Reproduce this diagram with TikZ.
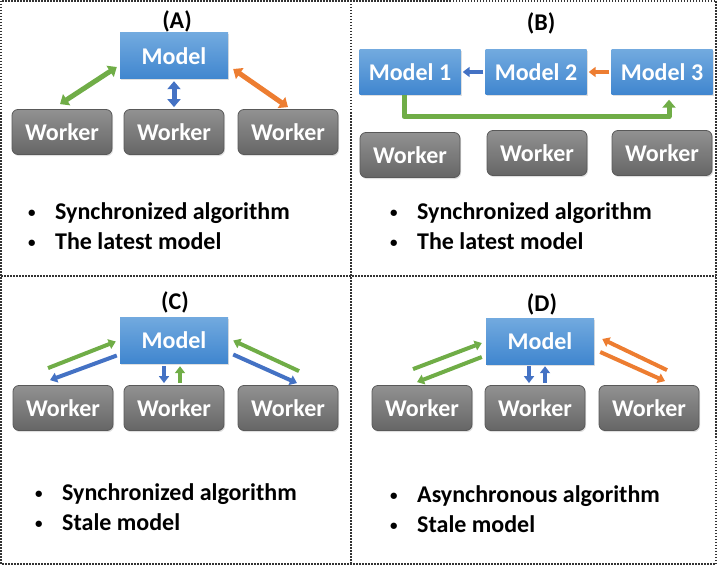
\documentclass[tikz,border=0pt]{standalone}
\usepackage{fontspec}
\setmainfont{Carlito}
\usetikzlibrary{arrows.meta,shadows}
\definecolor{arrgreen}{RGB}{112,173,71}
\definecolor{arrblue}{RGB}{68,114,196}
\definecolor{arrorange}{RGB}{237,125,49}
\definecolor{modeltop}{RGB}{114,170,223}
\definecolor{modelbot}{RGB}{64,134,207}
\definecolor{workertop}{RGB}{145,145,145}
\definecolor{workerbot}{RGB}{102,102,102}
\newcommand{\itm}{\makebox[29pt][l]{\hspace{2pt}\raisebox{1.5pt}{\fontsize{15}{15}\selectfont\textbullet}}}
\begin{document}
\begin{tikzpicture}[x=1pt,y=-1pt, font=\fontsize{24}{30}\selectfont\bfseries, line join=round,
	>={Triangle[length=8pt,width=13pt]},
	model/.style={top color=modeltop,bottom color=modelbot,text=white,inner sep=0pt,
		minimum width=108pt,minimum height=46pt,
		drop shadow={opacity=.25,shadow xshift=1pt,shadow yshift=-1.5pt}},
	modelsmall/.style={model,minimum width=101pt,minimum height=45pt},
	worker/.style={top color=workertop,bottom color=workerbot,draw=gray!70!black,line width=.8pt,
		rounded corners=6pt,text=white,inner sep=0pt,minimum width=100pt,minimum height=45pt,
		drop shadow={opacity=.25,shadow xshift=1pt,shadow yshift=-1.5pt}},
	bigarrow/.style={line width=5pt},
	pairarrow/.style={line width=4pt,-{Triangle[length=7pt,width=10pt]}},
	bullets/.style={anchor=west,align=left,inner sep=0pt},
	frame/.style={gray!40!black,line width=1.3pt,dash pattern=on 1.5pt off 1.5pt}]
	\useasboundingbox (0,0) rectangle (717,567);
	% frame
	\draw[frame] (1,1) rectangle (716,564);
	\draw[frame] (351,1)--(351,564);
	\draw[frame] (1,276)--(716,276);
	% (A)
	\node (tA) at (177,21) {(A)};
	\node[model] (ma) at (174,56) {Model};
	\node[worker] (wa1) at (62,132) {Worker};
	\node[worker] (wa2) at (174,132) {Worker};
	\node[worker] (wa3) at (288,132) {Worker};
	\draw[bigarrow,arrgreen,<->] ([shift={(-2,-5)}]wa1.north) -- ([shift={(-3,11)}]ma.west);
	\draw[bigarrow,arrblue,<->] ([yshift=-2pt]ma.south) -- ([yshift=2pt]wa2.north);
	\draw[bigarrow,arrorange,<->] ([shift={(5,13)}]ma.east) -- ([shift={(0,-2)}]wa3.north);
	\node[bullets] (la) at (26,226) {\itm Synchronized algorithm\\ \itm The latest model};
	% (B)
	\node (tB) at (541,23) {(B)};
	\node[modelsmall] (mb1) at (410,72) {Model 1};
	\node[modelsmall] (mb2) at (536,72) {Model 2};
	\node[modelsmall] (mb3) at (662,72) {Model 3};
	\node[worker] (wb1) at (410,155) {Worker};
	\node[worker] (wb2) at (537,153) {Worker};
	\node[worker] (wb3) at (662,153) {Worker};
	\draw[pairarrow,arrblue] ([xshift=-2pt]mb2.west) -- ([xshift=2pt]mb1.east);
	\draw[pairarrow,arrorange] ([xshift=-2pt]mb3.west) -- ([xshift=2pt]mb2.east);
	\draw[bigarrow,arrgreen,->] ([xshift=-6pt]mb1.south) -- ++(0,22) -| ([shift={(7,5)}]mb3.south);
	\node[bullets] (lb) at (388,226) {\itm Synchronized algorithm\\ \itm The latest model};
	% (C)
	\node (tC) at (175,302) {(C)};
	\node[model] (mc) at (174,340) {Model};
	\node[worker] (wc1) at (63,408) {Worker};
	\node[worker] (wc2) at (174,408) {Worker};
	\node[worker] (wc3) at (288,408) {Worker};
	\draw[pairarrow,arrgreen] ([shift={(-15,-17)}]wc1.north) -- ([shift={(-4,1.5)}]mc.west);
	\draw[pairarrow,arrblue] ([shift={(-3,15.5)}]mc.west) -- ([shift={(-13,-5)}]wc1.north);
	\draw[pairarrow,arrblue] ([shift={(-10,3)}]mc.south) -- ([shift={(-10,-2)}]wc2.north);
	\draw[pairarrow,arrgreen] ([shift={(6,-2)}]wc2.north) -- ([shift={(6,3)}]mc.south);
	\draw[pairarrow,arrgreen] ([shift={(11,-14)}]wc3.north) -- ([shift={(5,0.5)}]mc.east);
	\draw[pairarrow,arrblue] ([shift={(5,14.5)}]mc.east) -- ([shift={(9,-2)}]wc3.north);
	\node[bullets] (lc) at (33,507) {\itm Synchronized algorithm\\ \itm Stale model};
	% (D)
	\node (tD) at (542,304) {(D)};
	\node[model] (md) at (540,341) {Model};
	\node[worker] (wd1) at (422,408) {Worker};
	\node[worker] (wd2) at (535,408) {Worker};
	\node[worker] (wd3) at (649,408) {Worker};
	\draw[pairarrow,arrgreen] ([shift={(-9,-16)}]wd1.north) -- ([shift={(-4,2)}]md.west);
	\draw[pairarrow,arrgreen] ([shift={(-4,16)}]md.west) -- ([shift={(-5,-3)}]wd1.north);
	\draw[pairarrow,arrblue] ([shift={(-11,2)}]md.south) -- ([shift={(-6,-2)}]wd2.north);
	\draw[pairarrow,arrblue] ([shift={(10,-2)}]wd2.north) -- ([shift={(5,2)}]md.south);
	\draw[pairarrow,arrorange] ([shift={(18,-15)}]wd3.north) -- ([shift={(8,-2)}]md.east);
	\draw[pairarrow,arrorange] ([shift={(6,11)}]md.east) -- ([shift={(16,-4)}]wd3.north);
	\node[bullets] (ld) at (388,509) {\itm Asynchronous algorithm\\ \itm Stale model};
\end{tikzpicture}
\end{document}
